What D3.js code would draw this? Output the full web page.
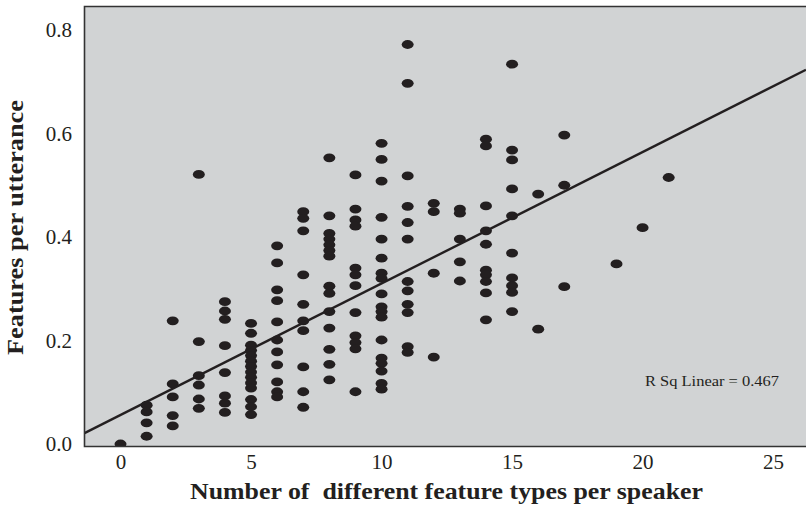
<!DOCTYPE html>
<html>
<head>
<meta charset="utf-8">
<script src="https://cdn.jsdelivr.net/npm/d3@7"></script>
<style>
  html, body { margin: 0; padding: 0; background: #ffffff; }
  svg { display: block; }
  text { font-family: "Liberation Serif", "Times New Roman", serif; fill: #231f20; }
</style>
</head>
<body>
<svg id="chart" width="806" height="510"></svg>
<script>
// Number of distinct feature types used by each speaker (x)
const featureTypes = [0, 1, 2, 3, 4, 5, 6, 7, 8, 9, 10, 11, 12, 13, 14, 15, 16, 17, 19, 20, 21];

// Features per utterance for the speakers at each x value above
const featureRates = [
  [0.000],
  [0.075, 0.062, 0.041, 0.015],
  [0.238, 0.116, 0.091, 0.055, 0.035],
  [0.521, 0.198, 0.132, 0.114, 0.087, 0.069],
  [0.275, 0.257, 0.241, 0.190, 0.138, 0.093, 0.079, 0.061],
  [0.233, 0.214, 0.191, 0.181, 0.171, 0.160, 0.150, 0.139, 0.129, 0.118, 0.108, 0.086, 0.072, 0.057],
  [0.383, 0.350, 0.298, 0.277, 0.236, 0.201, 0.178, 0.153, 0.120, 0.101, 0.091],
  [0.449, 0.436, 0.412, 0.327, 0.270, 0.238, 0.219, 0.149, 0.101, 0.071],
  [0.553, 0.441, 0.407, 0.396, 0.385, 0.374, 0.363, 0.305, 0.291, 0.256, 0.224, 0.183, 0.154, 0.124],
  [0.520, 0.454, 0.433, 0.421, 0.340, 0.327, 0.306, 0.254, 0.209, 0.196, 0.184, 0.101],
  [0.581, 0.550, 0.508, 0.438, 0.396, 0.359, 0.330, 0.320, 0.290, 0.265, 0.256, 0.245, 0.201, 0.166, 0.156, 0.141, 0.117, 0.106],
  [0.772, 0.697, 0.518, 0.459, 0.428, 0.396, 0.314, 0.296, 0.270, 0.254, 0.188, 0.177],
  [0.465, 0.449, 0.330, 0.168],
  [0.454, 0.446, 0.396, 0.352, 0.315],
  [0.589, 0.576, 0.460, 0.412, 0.386, 0.336, 0.327, 0.314, 0.292, 0.240],
  [0.734, 0.568, 0.549, 0.493, 0.441, 0.369, 0.321, 0.306, 0.293, 0.256],
  [0.483, 0.222],
  [0.597, 0.500, 0.304],
  [0.348],
  [0.418],
  [0.515]
];

// Axis ticks
const xTicks = [0, 5, 10, 15, 20, 25];
const yTicks = [0.0, 0.2, 0.4, 0.6, 0.8];

// Fitted linear trend and its goodness of fit
const fitIntercept = 0.0562;
const fitSlope = 0.0254;
const rSquared = 0.467;

const xTitle = "Number of  different feature types per speaker";
const yTitle = "Features per utterance";

// ---- layout ----
const plot = { left: 84.5, top: 6.5, right: 806, bottom: 446.5 };
const ink = "#231f20";

const svg = d3.select("#chart");

const x = d3.scaleLinear().domain([-1.38, 26.26]).range([plot.left, plot.right]);
const y = d3.scaleLinear().domain([-0.0048, 0.8454]).range([plot.bottom, plot.top]);

const points = featureTypes.flatMap((t, i) => featureRates[i].map(v => ({ t, v })));

svg.append("defs").append("clipPath").attr("id", "plot-clip")
  .append("rect")
  .attr("x", plot.left).attr("y", plot.top)
  .attr("width", plot.right - plot.left + 10).attr("height", plot.bottom - plot.top);

// Plot background
svg.append("rect")
  .attr("x", plot.left).attr("y", plot.top)
  .attr("width", plot.right - plot.left + 10).attr("height", plot.bottom - plot.top)
  .attr("fill", "#d1d3d4");

const inner = svg.append("g").attr("clip-path", "url(#plot-clip)");

// Data points
inner.append("g")
  .selectAll("ellipse")
  .data(points)
  .join("ellipse")
  .attr("cx", d => x(d.t))
  .attr("cy", d => y(d.v))
  .attr("rx", 6)
  .attr("ry", 4.4)
  .attr("fill", ink);

// Linear fit line across the whole plotted range
const [x0, x1] = x.domain();
inner.append("line")
  .attr("x1", x(x0)).attr("y1", y(fitIntercept + fitSlope * x0))
  .attr("x2", x(x1)).attr("y2", y(fitIntercept + fitSlope * x1))
  .attr("stroke", ink)
  .attr("stroke-width", 2.4);

// Frame: left, top and bottom edges
svg.append("path")
  .attr("d", `M${plot.right + 5},${plot.top}H${plot.left}V${plot.bottom}H${plot.right + 5}`)
  .attr("fill", "none")
  .attr("stroke", "#333333")
  .attr("stroke-width", 1.6);

// Axes (labels only)
const xAxis = svg.append("g")
  .attr("transform", `translate(0,${plot.bottom})`)
  .call(d3.axisBottom(x).tickValues(xTicks).tickSize(0).tickPadding(7.5).tickFormat(d3.format("d")));
const yAxis = svg.append("g")
  .attr("transform", `translate(${plot.left},0)`)
  .call(d3.axisLeft(y).tickValues(yTicks).tickSize(0).tickPadding(12.5).tickFormat(d3.format(".1f")));

[xAxis, yAxis].forEach(g => {
  g.select(".domain").remove();
  g.selectAll("text")
    .attr("font-family", "Liberation Serif, serif")
    .attr("font-size", 21)
    .attr("fill", ink);
});

// R squared annotation
svg.append("text")
  .attr("x", 645).attr("y", 386)
  .attr("font-size", 15.5)
  .attr("textLength", 134)
  .attr("lengthAdjust", "spacingAndGlyphs")
  .text(`R Sq Linear = ${rSquared.toFixed(3)}`);

// Axis titles
svg.append("text")
  .attr("x", 446.5).attr("y", 499)
  .attr("text-anchor", "middle")
  .attr("font-size", 23)
  .attr("font-weight", "bold")
  .attr("textLength", 513)
  .attr("lengthAdjust", "spacingAndGlyphs")
  .style("white-space", "pre")
  .text(xTitle);

svg.append("text")
  .attr("transform", "translate(23,227.5) rotate(-90)")
  .attr("text-anchor", "middle")
  .attr("font-size", 23)
  .attr("font-weight", "bold")
  .attr("textLength", 255)
  .attr("lengthAdjust", "spacingAndGlyphs")
  .text(yTitle);
</script>
</body>
</html>
